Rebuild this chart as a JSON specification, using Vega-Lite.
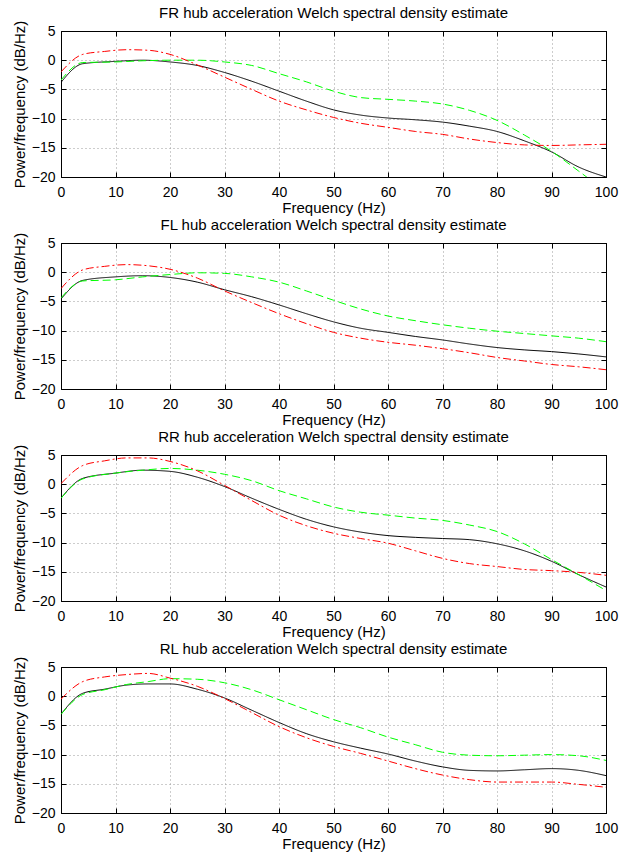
{
  "$schema": "https://vega.github.io/schema/vega-lite/v6.json",
  "background": "white",
  "padding": {"left": 11, "top": 5, "right": 8, "bottom": 2},
  "datasets": {
    "psd": [
      {"panel":"FR","series":"black","freq":0,"db":-3.8},{"panel":"FR","series":"black","freq":4,"db":-0.6},{"panel":"FR","series":"black","freq":10,"db":-0.2},{"panel":"FR","series":"black","freq":15,"db":0.0},{"panel":"FR","series":"black","freq":20,"db":-0.3},{"panel":"FR","series":"black","freq":25,"db":-0.9},{"panel":"FR","series":"black","freq":30,"db":-2.1},{"panel":"FR","series":"black","freq":35,"db":-3.6},{"panel":"FR","series":"black","freq":40,"db":-5.3},{"panel":"FR","series":"black","freq":45,"db":-7.0},{"panel":"FR","series":"black","freq":50,"db":-8.5},{"panel":"FR","series":"black","freq":55,"db":-9.4},{"panel":"FR","series":"black","freq":60,"db":-9.9},{"panel":"FR","series":"black","freq":65,"db":-10.2},{"panel":"FR","series":"black","freq":70,"db":-10.6},{"panel":"FR","series":"black","freq":75,"db":-11.3},{"panel":"FR","series":"black","freq":80,"db":-12.2},{"panel":"FR","series":"black","freq":85,"db":-13.8},{"panel":"FR","series":"black","freq":90,"db":-15.7},{"panel":"FR","series":"black","freq":95,"db":-18.3},{"panel":"FR","series":"black","freq":100,"db":-20.0},
      {"panel":"FR","series":"green","freq":0,"db":-3.4},{"panel":"FR","series":"green","freq":4,"db":-0.4},{"panel":"FR","series":"green","freq":10,"db":-0.3},{"panel":"FR","series":"green","freq":15,"db":-0.1},{"panel":"FR","series":"green","freq":20,"db":0.0},{"panel":"FR","series":"green","freq":25,"db":0.0},{"panel":"FR","series":"green","freq":30,"db":-0.3},{"panel":"FR","series":"green","freq":35,"db":-0.9},{"panel":"FR","series":"green","freq":40,"db":-2.3},{"panel":"FR","series":"green","freq":45,"db":-3.7},{"panel":"FR","series":"green","freq":50,"db":-5.3},{"panel":"FR","series":"green","freq":55,"db":-6.4},{"panel":"FR","series":"green","freq":60,"db":-6.7},{"panel":"FR","series":"green","freq":65,"db":-7.0},{"panel":"FR","series":"green","freq":70,"db":-7.5},{"panel":"FR","series":"green","freq":75,"db":-8.6},{"panel":"FR","series":"green","freq":80,"db":-10.3},{"panel":"FR","series":"green","freq":85,"db":-12.8},{"panel":"FR","series":"green","freq":90,"db":-15.6},{"panel":"FR","series":"green","freq":95,"db":-19.0},{"panel":"FR","series":"green","freq":100,"db":-22.5},
      {"panel":"FR","series":"red","freq":0,"db":-2.0},{"panel":"FR","series":"red","freq":4,"db":1.0},{"panel":"FR","series":"red","freq":8,"db":1.5},{"panel":"FR","series":"red","freq":12,"db":1.8},{"panel":"FR","series":"red","freq":16,"db":1.7},{"panel":"FR","series":"red","freq":20,"db":1.0},{"panel":"FR","series":"red","freq":25,"db":-0.8},{"panel":"FR","series":"red","freq":30,"db":-2.9},{"panel":"FR","series":"red","freq":35,"db":-5.0},{"panel":"FR","series":"red","freq":40,"db":-7.0},{"panel":"FR","series":"red","freq":45,"db":-8.5},{"panel":"FR","series":"red","freq":50,"db":-9.8},{"panel":"FR","series":"red","freq":55,"db":-10.8},{"panel":"FR","series":"red","freq":60,"db":-11.5},{"panel":"FR","series":"red","freq":65,"db":-12.2},{"panel":"FR","series":"red","freq":70,"db":-12.7},{"panel":"FR","series":"red","freq":75,"db":-13.5},{"panel":"FR","series":"red","freq":80,"db":-14.1},{"panel":"FR","series":"red","freq":85,"db":-14.5},{"panel":"FR","series":"red","freq":90,"db":-14.6},{"panel":"FR","series":"red","freq":95,"db":-14.5},{"panel":"FR","series":"red","freq":100,"db":-14.4},

      {"panel":"FL","series":"black","freq":0,"db":-4.6},{"panel":"FL","series":"black","freq":4,"db":-1.4},{"panel":"FL","series":"black","freq":10,"db":-0.8},{"panel":"FL","series":"black","freq":15,"db":-0.6},{"panel":"FL","series":"black","freq":20,"db":-0.9},{"panel":"FL","series":"black","freq":25,"db":-1.7},{"panel":"FL","series":"black","freq":30,"db":-3.0},{"panel":"FL","series":"black","freq":35,"db":-4.2},{"panel":"FL","series":"black","freq":40,"db":-5.6},{"panel":"FL","series":"black","freq":45,"db":-7.1},{"panel":"FL","series":"black","freq":50,"db":-8.5},{"panel":"FL","series":"black","freq":55,"db":-9.6},{"panel":"FL","series":"black","freq":60,"db":-10.3},{"panel":"FL","series":"black","freq":65,"db":-11.0},{"panel":"FL","series":"black","freq":70,"db":-11.6},{"panel":"FL","series":"black","freq":75,"db":-12.3},{"panel":"FL","series":"black","freq":80,"db":-12.9},{"panel":"FL","series":"black","freq":85,"db":-13.3},{"panel":"FL","series":"black","freq":90,"db":-13.6},{"panel":"FL","series":"black","freq":95,"db":-14.0},{"panel":"FL","series":"black","freq":100,"db":-14.5},
      {"panel":"FL","series":"green","freq":0,"db":-4.4},{"panel":"FL","series":"green","freq":4,"db":-1.5},{"panel":"FL","series":"green","freq":10,"db":-1.3},{"panel":"FL","series":"green","freq":15,"db":-0.8},{"panel":"FL","series":"green","freq":20,"db":-0.4},{"panel":"FL","series":"green","freq":25,"db":-0.1},{"panel":"FL","series":"green","freq":30,"db":-0.2},{"panel":"FL","series":"green","freq":35,"db":-0.8},{"panel":"FL","series":"green","freq":40,"db":-1.7},{"panel":"FL","series":"green","freq":45,"db":-3.2},{"panel":"FL","series":"green","freq":50,"db":-4.8},{"panel":"FL","series":"green","freq":55,"db":-6.3},{"panel":"FL","series":"green","freq":60,"db":-7.5},{"panel":"FL","series":"green","freq":65,"db":-8.3},{"panel":"FL","series":"green","freq":70,"db":-9.0},{"panel":"FL","series":"green","freq":75,"db":-9.6},{"panel":"FL","series":"green","freq":80,"db":-10.1},{"panel":"FL","series":"green","freq":85,"db":-10.5},{"panel":"FL","series":"green","freq":90,"db":-10.9},{"panel":"FL","series":"green","freq":95,"db":-11.3},{"panel":"FL","series":"green","freq":100,"db":-11.9},
      {"panel":"FL","series":"red","freq":0,"db":-2.8},{"panel":"FL","series":"red","freq":4,"db":0.4},{"panel":"FL","series":"red","freq":8,"db":1.0},{"panel":"FL","series":"red","freq":12,"db":1.3},{"panel":"FL","series":"red","freq":16,"db":1.1},{"panel":"FL","series":"red","freq":20,"db":0.5},{"panel":"FL","series":"red","freq":25,"db":-1.0},{"panel":"FL","series":"red","freq":30,"db":-3.2},{"panel":"FL","series":"red","freq":35,"db":-5.2},{"panel":"FL","series":"red","freq":40,"db":-7.1},{"panel":"FL","series":"red","freq":45,"db":-8.8},{"panel":"FL","series":"red","freq":50,"db":-10.3},{"panel":"FL","series":"red","freq":55,"db":-11.3},{"panel":"FL","series":"red","freq":60,"db":-12.0},{"panel":"FL","series":"red","freq":65,"db":-12.5},{"panel":"FL","series":"red","freq":70,"db":-13.1},{"panel":"FL","series":"red","freq":75,"db":-13.8},{"panel":"FL","series":"red","freq":80,"db":-14.6},{"panel":"FL","series":"red","freq":85,"db":-15.2},{"panel":"FL","series":"red","freq":90,"db":-15.8},{"panel":"FL","series":"red","freq":95,"db":-16.2},{"panel":"FL","series":"red","freq":100,"db":-16.7},

      {"panel":"RR","series":"black","freq":0,"db":-2.4},{"panel":"RR","series":"black","freq":4,"db":1.0},{"panel":"RR","series":"black","freq":10,"db":1.9},{"panel":"RR","series":"black","freq":15,"db":2.4},{"panel":"RR","series":"black","freq":20,"db":2.2},{"panel":"RR","series":"black","freq":25,"db":1.2},{"panel":"RR","series":"black","freq":30,"db":-0.4},{"panel":"RR","series":"black","freq":35,"db":-2.4},{"panel":"RR","series":"black","freq":40,"db":-4.3},{"panel":"RR","series":"black","freq":45,"db":-6.0},{"panel":"RR","series":"black","freq":50,"db":-7.3},{"panel":"RR","series":"black","freq":55,"db":-8.2},{"panel":"RR","series":"black","freq":60,"db":-8.8},{"panel":"RR","series":"black","freq":65,"db":-9.1},{"panel":"RR","series":"black","freq":70,"db":-9.3},{"panel":"RR","series":"black","freq":75,"db":-9.5},{"panel":"RR","series":"black","freq":80,"db":-10.2},{"panel":"RR","series":"black","freq":85,"db":-11.4},{"panel":"RR","series":"black","freq":90,"db":-13.2},{"panel":"RR","series":"black","freq":95,"db":-15.5},{"panel":"RR","series":"black","freq":100,"db":-17.6},
      {"panel":"RR","series":"green","freq":0,"db":-2.4},{"panel":"RR","series":"green","freq":4,"db":0.9},{"panel":"RR","series":"green","freq":10,"db":1.9},{"panel":"RR","series":"green","freq":15,"db":2.4},{"panel":"RR","series":"green","freq":20,"db":2.7},{"panel":"RR","series":"green","freq":25,"db":2.4},{"panel":"RR","series":"green","freq":30,"db":1.7},{"panel":"RR","series":"green","freq":35,"db":0.6},{"panel":"RR","series":"green","freq":40,"db":-1.1},{"panel":"RR","series":"green","freq":45,"db":-2.5},{"panel":"RR","series":"green","freq":50,"db":-3.9},{"panel":"RR","series":"green","freq":55,"db":-4.8},{"panel":"RR","series":"green","freq":60,"db":-5.3},{"panel":"RR","series":"green","freq":65,"db":-5.8},{"panel":"RR","series":"green","freq":70,"db":-6.2},{"panel":"RR","series":"green","freq":75,"db":-7.0},{"panel":"RR","series":"green","freq":80,"db":-8.1},{"panel":"RR","series":"green","freq":85,"db":-10.2},{"panel":"RR","series":"green","freq":90,"db":-12.9},{"panel":"RR","series":"green","freq":95,"db":-15.5},{"panel":"RR","series":"green","freq":100,"db":-18.2},
      {"panel":"RR","series":"red","freq":0,"db":0.1},{"panel":"RR","series":"red","freq":4,"db":3.2},{"panel":"RR","series":"red","freq":8,"db":4.0},{"panel":"RR","series":"red","freq":12,"db":4.5},{"panel":"RR","series":"red","freq":16,"db":4.5},{"panel":"RR","series":"red","freq":20,"db":3.9},{"panel":"RR","series":"red","freq":25,"db":2.3},{"panel":"RR","series":"red","freq":30,"db":-0.2},{"panel":"RR","series":"red","freq":35,"db":-2.8},{"panel":"RR","series":"red","freq":40,"db":-5.3},{"panel":"RR","series":"red","freq":45,"db":-7.1},{"panel":"RR","series":"red","freq":50,"db":-8.4},{"panel":"RR","series":"red","freq":55,"db":-9.3},{"panel":"RR","series":"red","freq":60,"db":-10.1},{"panel":"RR","series":"red","freq":65,"db":-11.4},{"panel":"RR","series":"red","freq":70,"db":-12.7},{"panel":"RR","series":"red","freq":75,"db":-13.6},{"panel":"RR","series":"red","freq":80,"db":-14.1},{"panel":"RR","series":"red","freq":85,"db":-14.6},{"panel":"RR","series":"red","freq":90,"db":-14.8},{"panel":"RR","series":"red","freq":95,"db":-15.1},{"panel":"RR","series":"red","freq":100,"db":-15.6},

      {"panel":"RL","series":"black","freq":0,"db":-3.1},{"panel":"RL","series":"black","freq":4,"db":0.5},{"panel":"RL","series":"black","freq":8,"db":1.2},{"panel":"RL","series":"black","freq":12,"db":1.9},{"panel":"RL","series":"black","freq":16,"db":2.1},{"panel":"RL","series":"black","freq":20,"db":2.1},{"panel":"RL","series":"black","freq":25,"db":1.2},{"panel":"RL","series":"black","freq":30,"db":-0.3},{"panel":"RL","series":"black","freq":35,"db":-2.4},{"panel":"RL","series":"black","freq":40,"db":-4.5},{"panel":"RL","series":"black","freq":45,"db":-6.4},{"panel":"RL","series":"black","freq":50,"db":-7.8},{"panel":"RL","series":"black","freq":55,"db":-8.9},{"panel":"RL","series":"black","freq":60,"db":-9.9},{"panel":"RL","series":"black","freq":65,"db":-11.1},{"panel":"RL","series":"black","freq":70,"db":-12.1},{"panel":"RL","series":"black","freq":75,"db":-12.7},{"panel":"RL","series":"black","freq":80,"db":-12.8},{"panel":"RL","series":"black","freq":85,"db":-12.6},{"panel":"RL","series":"black","freq":90,"db":-12.4},{"panel":"RL","series":"black","freq":95,"db":-12.7},{"panel":"RL","series":"black","freq":100,"db":-13.6},
      {"panel":"RL","series":"green","freq":0,"db":-3.1},{"panel":"RL","series":"green","freq":4,"db":0.3},{"panel":"RL","series":"green","freq":8,"db":1.1},{"panel":"RL","series":"green","freq":12,"db":2.0},{"panel":"RL","series":"green","freq":16,"db":2.5},{"panel":"RL","series":"green","freq":20,"db":3.0},{"panel":"RL","series":"green","freq":25,"db":2.9},{"panel":"RL","series":"green","freq":30,"db":2.3},{"panel":"RL","series":"green","freq":35,"db":1.1},{"panel":"RL","series":"green","freq":40,"db":-0.6},{"panel":"RL","series":"green","freq":45,"db":-2.3},{"panel":"RL","series":"green","freq":50,"db":-4.0},{"panel":"RL","series":"green","freq":55,"db":-5.4},{"panel":"RL","series":"green","freq":60,"db":-7.0},{"panel":"RL","series":"green","freq":65,"db":-8.3},{"panel":"RL","series":"green","freq":70,"db":-9.6},{"panel":"RL","series":"green","freq":75,"db":-10.1},{"panel":"RL","series":"green","freq":80,"db":-10.2},{"panel":"RL","series":"green","freq":85,"db":-10.1},{"panel":"RL","series":"green","freq":90,"db":-10.0},{"panel":"RL","series":"green","freq":95,"db":-10.2},{"panel":"RL","series":"green","freq":100,"db":-11.0},
      {"panel":"RL","series":"red","freq":0,"db":-0.5},{"panel":"RL","series":"red","freq":4,"db":2.5},{"panel":"RL","series":"red","freq":8,"db":3.3},{"panel":"RL","series":"red","freq":12,"db":3.7},{"panel":"RL","series":"red","freq":16,"db":3.9},{"panel":"RL","series":"red","freq":20,"db":3.1},{"panel":"RL","series":"red","freq":25,"db":1.7},{"panel":"RL","series":"red","freq":30,"db":-0.4},{"panel":"RL","series":"red","freq":35,"db":-2.8},{"panel":"RL","series":"red","freq":40,"db":-5.2},{"panel":"RL","series":"red","freq":45,"db":-7.1},{"panel":"RL","series":"red","freq":50,"db":-8.6},{"panel":"RL","series":"red","freq":55,"db":-9.8},{"panel":"RL","series":"red","freq":60,"db":-11.1},{"panel":"RL","series":"red","freq":65,"db":-12.4},{"panel":"RL","series":"red","freq":70,"db":-13.5},{"panel":"RL","series":"red","freq":75,"db":-14.3},{"panel":"RL","series":"red","freq":80,"db":-14.7},{"panel":"RL","series":"red","freq":85,"db":-14.7},{"panel":"RL","series":"red","freq":90,"db":-14.7},{"panel":"RL","series":"red","freq":95,"db":-15.1},{"panel":"RL","series":"red","freq":100,"db":-15.6}
    ]
  },
  "data": {"name": "psd"},
  "spacing": 1,
  "vconcat": [
    {
      "title": "FR hub acceleration Welch spectral density estimate",
      "width": 545, "height": 146,
      "transform": [{"filter": "datum.panel == 'FR'"}],
      "layer": [
        {"mark": {"type": "line", "strokeWidth": 1, "interpolate": "monotone", "clip": true},
         "encoding": {
           "x": {"field": "freq", "type": "quantitative", "scale": {"domain": [0, 100], "nice": false}, "axis": {"title": "Frequency (Hz)", "values": [0,10,20,30,40,50,60,70,80,90,100], "grid": true}},
           "y": {"field": "db", "type": "quantitative", "scale": {"domain": [-20, 5], "nice": false}, "axis": {"title": "Power/frequency (dB/Hz)", "values": [-20,-15,-10,-5,0,5], "grid": true}},
           "color": {"field": "series", "type": "nominal", "scale": {"domain": ["black","green","red"], "range": ["#000000","#00ff00","#ff0000"]}, "legend": null},
           "strokeDash": {"field": "series", "type": "nominal", "scale": {"domain": ["black","green","red"], "range": [[1,0],[8,4],[8,3,2,3]]}, "legend": null}
         }},
        {"mark": {"type": "line", "opacity": 0},
         "encoding": {
           "x": {"field": "freq", "type": "quantitative", "axis": {"orient": "top", "title": null, "labels": false, "grid": false, "values": [0,10,20,30,40,50,60,70,80,90,100]}},
           "y": {"field": "db", "type": "quantitative", "axis": {"orient": "right", "title": null, "labels": false, "grid": false, "values": [-20,-15,-10,-5,0,5]}},
           "detail": {"field": "series"}
         }}
      ],
      "resolve": {"axis": {"x": "independent", "y": "independent"}}
    },
    {
      "title": "FL hub acceleration Welch spectral density estimate",
      "width": 545, "height": 146,
      "transform": [{"filter": "datum.panel == 'FL'"}],
      "layer": [
        {"mark": {"type": "line", "strokeWidth": 1, "interpolate": "monotone", "clip": true},
         "encoding": {
           "x": {"field": "freq", "type": "quantitative", "scale": {"domain": [0, 100], "nice": false}, "axis": {"title": "Frequency (Hz)", "values": [0,10,20,30,40,50,60,70,80,90,100], "grid": true}},
           "y": {"field": "db", "type": "quantitative", "scale": {"domain": [-20, 5], "nice": false}, "axis": {"title": "Power/frequency (dB/Hz)", "values": [-20,-15,-10,-5,0,5], "grid": true}},
           "color": {"field": "series", "type": "nominal", "scale": {"domain": ["black","green","red"], "range": ["#000000","#00ff00","#ff0000"]}, "legend": null},
           "strokeDash": {"field": "series", "type": "nominal", "scale": {"domain": ["black","green","red"], "range": [[1,0],[8,4],[8,3,2,3]]}, "legend": null}
         }},
        {"mark": {"type": "line", "opacity": 0},
         "encoding": {
           "x": {"field": "freq", "type": "quantitative", "axis": {"orient": "top", "title": null, "labels": false, "grid": false, "values": [0,10,20,30,40,50,60,70,80,90,100]}},
           "y": {"field": "db", "type": "quantitative", "axis": {"orient": "right", "title": null, "labels": false, "grid": false, "values": [-20,-15,-10,-5,0,5]}},
           "detail": {"field": "series"}
         }}
      ],
      "resolve": {"axis": {"x": "independent", "y": "independent"}}
    },
    {
      "title": "RR hub acceleration Welch spectral density estimate",
      "width": 545, "height": 146,
      "transform": [{"filter": "datum.panel == 'RR'"}],
      "layer": [
        {"mark": {"type": "line", "strokeWidth": 1, "interpolate": "monotone", "clip": true},
         "encoding": {
           "x": {"field": "freq", "type": "quantitative", "scale": {"domain": [0, 100], "nice": false}, "axis": {"title": "Frequency (Hz)", "values": [0,10,20,30,40,50,60,70,80,90,100], "grid": true}},
           "y": {"field": "db", "type": "quantitative", "scale": {"domain": [-20, 5], "nice": false}, "axis": {"title": "Power/frequency (dB/Hz)", "values": [-20,-15,-10,-5,0,5], "grid": true}},
           "color": {"field": "series", "type": "nominal", "scale": {"domain": ["black","green","red"], "range": ["#000000","#00ff00","#ff0000"]}, "legend": null},
           "strokeDash": {"field": "series", "type": "nominal", "scale": {"domain": ["black","green","red"], "range": [[1,0],[8,4],[8,3,2,3]]}, "legend": null}
         }},
        {"mark": {"type": "line", "opacity": 0},
         "encoding": {
           "x": {"field": "freq", "type": "quantitative", "axis": {"orient": "top", "title": null, "labels": false, "grid": false, "values": [0,10,20,30,40,50,60,70,80,90,100]}},
           "y": {"field": "db", "type": "quantitative", "axis": {"orient": "right", "title": null, "labels": false, "grid": false, "values": [-20,-15,-10,-5,0,5]}},
           "detail": {"field": "series"}
         }}
      ],
      "resolve": {"axis": {"x": "independent", "y": "independent"}}
    },
    {
      "title": "RL hub acceleration Welch spectral density estimate",
      "width": 545, "height": 146,
      "transform": [{"filter": "datum.panel == 'RL'"}],
      "layer": [
        {"mark": {"type": "line", "strokeWidth": 1, "interpolate": "monotone", "clip": true},
         "encoding": {
           "x": {"field": "freq", "type": "quantitative", "scale": {"domain": [0, 100], "nice": false}, "axis": {"title": "Frequency (Hz)", "values": [0,10,20,30,40,50,60,70,80,90,100], "grid": true}},
           "y": {"field": "db", "type": "quantitative", "scale": {"domain": [-20, 5], "nice": false}, "axis": {"title": "Power/frequency (dB/Hz)", "values": [-20,-15,-10,-5,0,5], "grid": true}},
           "color": {"field": "series", "type": "nominal", "scale": {"domain": ["black","green","red"], "range": ["#000000","#00ff00","#ff0000"]}, "legend": null},
           "strokeDash": {"field": "series", "type": "nominal", "scale": {"domain": ["black","green","red"], "range": [[1,0],[8,4],[8,3,2,3]]}, "legend": null}
         }},
        {"mark": {"type": "line", "opacity": 0},
         "encoding": {
           "x": {"field": "freq", "type": "quantitative", "axis": {"orient": "top", "title": null, "labels": false, "grid": false, "values": [0,10,20,30,40,50,60,70,80,90,100]}},
           "y": {"field": "db", "type": "quantitative", "axis": {"orient": "right", "title": null, "labels": false, "grid": false, "values": [-20,-15,-10,-5,0,5]}},
           "detail": {"field": "series"}
         }}
      ],
      "resolve": {"axis": {"x": "independent", "y": "independent"}}
    }
  ],
  "config": {
    "font": "Liberation Sans",
    "view": {"stroke": "#000000", "strokeWidth": 1},
    "title": {"fontSize": 15, "fontWeight": "normal", "color": "#000000", "font": "Liberation Sans", "offset": -1},
    "axis": {
      "labelFont": "Liberation Sans", "titleFont": "Liberation Sans",
      "labelFontSize": 14, "titleFontSize": 15, "titleFontWeight": "normal",
      "labelColor": "#000000", "titleColor": "#000000",
      "domainColor": "#000000", "tickColor": "#000000",
      "tickSize": -5, "labelPadding": 13, "titlePadding": 1,
      "gridColor": "#9a9a9a", "gridDash": [1, 3], "gridOpacity": 1, "gridWidth": 1
    },
    "axisX": {"labelFlush": false},
    "axisY": {"labelFlush": false, "labelPadding": 11, "titlePadding": 4}
  }
}
